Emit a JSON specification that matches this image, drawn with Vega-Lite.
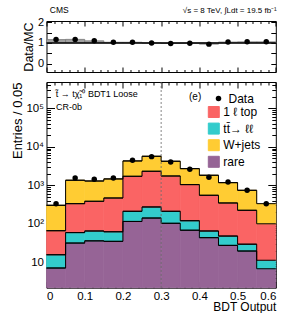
{
  "$schema": "https://vega.github.io/schema/vega-lite/v6.json",
  "padding": {"left": 10.5, "top": 5, "right": 0, "bottom": 0},
  "background": "white",
  "config": {
    "font": "Liberation Sans",
    "view": {"stroke": null},
    "axis": {"labelFont": "Liberation Sans", "titleFont": "Liberation Sans", "labelColor": "black", "titleColor": "black", "tickColor": "black", "domainColor": "black", "grid": false, "zindex": 1, "titleFontWeight": "normal", "domain": false},
    "legend": {"labelFont": "Liberation Sans", "labelColor": "black"},
    "text": {"font": "Liberation Sans", "color": "black"}
  },
  "resolve": {"scale": {"color": "independent", "stroke": "independent", "shape": "independent"}, "legend": {"color": "independent", "stroke": "independent", "shape": "independent"}},
  "datasets": {
    "h": [
      {"x0": 0.00, "x1": 0.05, "p": "rare", "lo": 1, "hi": 7.1},
      {"x0": 0.00, "x1": 0.05, "p": "tt̄→ ℓℓ", "lo": 7.1, "hi": 15.7},
      {"x0": 0.00, "x1": 0.05, "p": "1 ℓ top", "lo": 15.7, "hi": 66},
      {"x0": 0.00, "x1": 0.05, "p": "W+jets", "lo": 66, "hi": 302},
      {"x0": 0.05, "x1": 0.10, "p": "rare", "lo": 1, "hi": 31.6},
      {"x0": 0.05, "x1": 0.10, "p": "tt̄→ ℓℓ", "lo": 31.6, "hi": 59},
      {"x0": 0.05, "x1": 0.10, "p": "1 ℓ top", "lo": 59, "hi": 333},
      {"x0": 0.05, "x1": 0.10, "p": "W+jets", "lo": 333, "hi": 1350},
      {"x0": 0.10, "x1": 0.15, "p": "rare", "lo": 1, "hi": 36},
      {"x0": 0.10, "x1": 0.15, "p": "tt̄→ ℓℓ", "lo": 36, "hi": 65},
      {"x0": 0.10, "x1": 0.15, "p": "1 ℓ top", "lo": 65, "hi": 384},
      {"x0": 0.10, "x1": 0.15, "p": "W+jets", "lo": 384, "hi": 1290},
      {"x0": 0.15, "x1": 0.20, "p": "rare", "lo": 1, "hi": 35},
      {"x0": 0.15, "x1": 0.20, "p": "tt̄→ ℓℓ", "lo": 35, "hi": 62},
      {"x0": 0.15, "x1": 0.20, "p": "1 ℓ top", "lo": 62, "hi": 467},
      {"x0": 0.15, "x1": 0.20, "p": "W+jets", "lo": 467, "hi": 1460},
      {"x0": 0.20, "x1": 0.25, "p": "rare", "lo": 1, "hi": 115},
      {"x0": 0.20, "x1": 0.25, "p": "tt̄→ ℓℓ", "lo": 115, "hi": 211},
      {"x0": 0.20, "x1": 0.25, "p": "1 ℓ top", "lo": 211, "hi": 1710},
      {"x0": 0.20, "x1": 0.25, "p": "W+jets", "lo": 1710, "hi": 4280},
      {"x0": 0.25, "x1": 0.30, "p": "rare", "lo": 1, "hi": 141},
      {"x0": 0.25, "x1": 0.30, "p": "tt̄→ ℓℓ", "lo": 141, "hi": 273},
      {"x0": 0.25, "x1": 0.30, "p": "1 ℓ top", "lo": 273, "hi": 2310},
      {"x0": 0.25, "x1": 0.30, "p": "W+jets", "lo": 2310, "hi": 5660},
      {"x0": 0.30, "x1": 0.35, "p": "rare", "lo": 1, "hi": 103},
      {"x0": 0.30, "x1": 0.35, "p": "tt̄→ ℓℓ", "lo": 103, "hi": 211},
      {"x0": 0.30, "x1": 0.35, "p": "1 ℓ top", "lo": 211, "hi": 1740},
      {"x0": 0.30, "x1": 0.35, "p": "W+jets", "lo": 1740, "hi": 4200},
      {"x0": 0.35, "x1": 0.40, "p": "rare", "lo": 1, "hi": 68},
      {"x0": 0.35, "x1": 0.40, "p": "tt̄→ ℓℓ", "lo": 68, "hi": 120},
      {"x0": 0.35, "x1": 0.40, "p": "1 ℓ top", "lo": 120, "hi": 1040},
      {"x0": 0.35, "x1": 0.40, "p": "W+jets", "lo": 1040, "hi": 2700},
      {"x0": 0.40, "x1": 0.45, "p": "rare", "lo": 1, "hi": 43.6},
      {"x0": 0.40, "x1": 0.45, "p": "tt̄→ ℓℓ", "lo": 43.6, "hi": 65},
      {"x0": 0.40, "x1": 0.45, "p": "1 ℓ top", "lo": 65, "hi": 550},
      {"x0": 0.40, "x1": 0.45, "p": "W+jets", "lo": 550, "hi": 1820},
      {"x0": 0.45, "x1": 0.50, "p": "rare", "lo": 1, "hi": 27.5},
      {"x0": 0.45, "x1": 0.50, "p": "tt̄→ ℓℓ", "lo": 27.5, "hi": 48},
      {"x0": 0.45, "x1": 0.50, "p": "1 ℓ top", "lo": 48, "hi": 347},
      {"x0": 0.45, "x1": 0.50, "p": "W+jets", "lo": 347, "hi": 1170},
      {"x0": 0.50, "x1": 0.55, "p": "rare", "lo": 1, "hi": 19.6},
      {"x0": 0.50, "x1": 0.55, "p": "tt̄→ ℓℓ", "lo": 19.6, "hi": 29.5},
      {"x0": 0.50, "x1": 0.55, "p": "1 ℓ top", "lo": 29.5, "hi": 224},
      {"x0": 0.50, "x1": 0.55, "p": "W+jets", "lo": 224, "hi": 740},
      {"x0": 0.55, "x1": 0.60, "p": "rare", "lo": 1, "hi": 6.8},
      {"x0": 0.55, "x1": 0.60, "p": "tt̄→ ℓℓ", "lo": 6.8, "hi": 11.3},
      {"x0": 0.55, "x1": 0.60, "p": "1 ℓ top", "lo": 11.3, "hi": 100},
      {"x0": 0.55, "x1": 0.60, "p": "W+jets", "lo": 100, "hi": 333}
    ],
    "d": [
      {"x": 0.025, "x0": 0.00, "x1": 0.05, "n": 333, "r": 1.16},
      {"x": 0.075, "x0": 0.05, "x1": 0.10, "n": 1550, "r": 1.17},
      {"x": 0.125, "x0": 0.10, "x1": 0.15, "n": 1430, "r": 1.10},
      {"x": 0.175, "x0": 0.15, "x1": 0.20, "n": 1550, "r": 1.03},
      {"x": 0.225, "x0": 0.20, "x1": 0.25, "n": 4460, "r": 1.03},
      {"x": 0.275, "x0": 0.25, "x1": 0.30, "n": 5540, "r": 0.99},
      {"x": 0.325, "x0": 0.30, "x1": 0.35, "n": 4030, "r": 0.97},
      {"x": 0.375, "x0": 0.35, "x1": 0.40, "n": 2600, "r": 0.98},
      {"x": 0.425, "x0": 0.40, "x1": 0.45, "n": 1610, "r": 0.94},
      {"x": 0.475, "x0": 0.45, "x1": 0.50, "n": 1220, "r": 1.04},
      {"x": 0.525, "x0": 0.50, "x1": 0.55, "n": 740, "r": 1.05},
      {"x": 0.575, "x0": 0.55, "x1": 0.60, "n": 333, "r": 1.05}
    ],
    "one": [{}]
  },
  "vconcat": [
    {
      "width": 229.3,
      "height": 51,
      "resolve": {"axis": {"x": "independent", "y": "independent"}},
      "layer": [
        {
          "data": {"name": "d"},
          "mark": {"type": "rect", "fill": "#a0a0a0", "stroke": "#777777", "strokeWidth": 0.8},
          "encoding": {
            "x": {"field": "x0", "type": "quantitative", "scale": {"domain": [0, 0.6], "nice": false, "zero": false},
                  "axis": {"orient": "top", "values": [0, 0.1, 0.2, 0.3, 0.4, 0.5, 0.6], "labels": false, "tickSize": -5, "domain": true, "title": null}},
            "x2": {"field": "x1"},
            "y": {"field": "r", "type": "quantitative", "scale": {"domain": [-0.41, 2.06], "nice": false, "zero": false},
                  "axis": {"orient": "right", "values": [0, 0.5, 1, 1.5, 2], "labels": false, "tickSize": -5, "domain": true, "title": null}},
            "y2": {"datum": 1}
          }
        },
        {
          "data": {"name": "one"},
          "mark": {"type": "rule", "color": "black", "strokeWidth": 1.5},
          "encoding": {"y": {"datum": 1, "type": "quantitative", "axis": null}}
        },
        {
          "data": {"name": "d"},
          "mark": {"type": "point", "filled": true, "color": "black", "size": 30, "opacity": 1},
          "encoding": {
            "x": {"field": "x", "type": "quantitative",
                  "axis": {"orient": "bottom", "values": [0, 0.1, 0.2, 0.3, 0.4, 0.5, 0.6], "labels": false, "tickSize": -5, "domain": true, "title": null}},
            "y": {"field": "r", "type": "quantitative",
                  "axis": {"orient": "left", "values": [0, 0.5, 1, 1.5, 2], "tickSize": -5, "domain": true, "labelFontSize": 11, "labelPadding": 8,
                           "labelExpr": "datum.value == 0 ? '0' : datum.value == 1 ? '1' : datum.value == 2 ? '2' : format(datum.value, '.1f')",
                           "title": "Data/MC", "titleFontSize": 12.5, "titlePadding": 1.5}}
          }
        },
        {
          "data": {"name": "one"},
          "mark": {"type": "text", "align": "left", "baseline": "alphabetic", "fontSize": 8.5},
          "encoding": {
            "x": {"datum": 0.0086, "type": "quantitative",
                  "axis": {"orient": "top", "values": [0.02, 0.04, 0.06, 0.08, 0.12, 0.14, 0.16, 0.18, 0.22, 0.24, 0.26, 0.28, 0.32, 0.34, 0.36, 0.38, 0.42, 0.44, 0.46, 0.48, 0.52, 0.54, 0.56, 0.58], "labels": false, "tickSize": -2.5, "title": null}},
            "y": {"datum": 2.45, "type": "quantitative", "axis": null},
            "text": {"value": "CMS"}
          }
        },
        {
          "data": {"name": "one"},
          "mark": {"type": "text", "align": "right", "baseline": "alphabetic", "fontSize": 8},
          "encoding": {
            "x": {"datum": 0.6026, "type": "quantitative",
                  "axis": {"orient": "bottom", "values": [0.02, 0.04, 0.06, 0.08, 0.12, 0.14, 0.16, 0.18, 0.22, 0.24, 0.26, 0.28, 0.32, 0.34, 0.36, 0.38, 0.42, 0.44, 0.46, 0.48, 0.52, 0.54, 0.56, 0.58], "labels": false, "tickSize": -2.5, "title": null}},
            "y": {"datum": 2.45, "type": "quantitative", "axis": null},
            "text": {"value": "√s = 8 TeV, ∫Ldt = 19.5 fb⁻¹"}
          }
        }
      ]
    },
    {
      "width": 229.3,
      "height": 205.7,
      "resolve": {"axis": {"x": "independent", "y": "independent"}},
      "layer": [
        {
          "data": {"name": "h"},
          "mark": {"type": "rect", "strokeWidth": 0.7},
          "encoding": {
            "x": {"field": "x0", "type": "quantitative", "scale": {"domain": [0, 0.6], "nice": false, "zero": false},
                  "axis": {"orient": "bottom", "values": [0, 0.1, 0.2, 0.3, 0.4, 0.5, 0.6], "tickSize": -6, "domain": true, "labelFontSize": 11.5, "labelPadding": 8.5,
                           "labelExpr": "datum.value == 0 ? '0' : format(datum.value, '.1f')",
                           "title": "BDT Output", "titleFontSize": 12, "titleAnchor": "end", "titlePadding": 0}},
            "x2": {"field": "x1"},
            "y": {"field": "hi", "type": "quantitative", "scale": {"type": "log", "domain": [2.19, 480000], "nice": false, "clamp": true},
                  "axis": {"orient": "left", "values": [10, 100, 1000, 10000, 100000], "tickSize": -8, "domain": true, "labelFontSize": 11.5, "labelPadding": 11,
                           "labelExpr": "datum.value == 10 ? '10' : datum.value == 100 ? '10²' : datum.value == 1000 ? '10³' : datum.value == 10000 ? '10⁴' : '10⁵'",
                           "title": "Entries / 0.05", "titleFontSize": 13, "titleAnchor": "end", "titlePadding": 1.5}},
            "y2": {"field": "lo"},
            "color": {"field": "p", "type": "nominal",
                      "scale": {"domain": ["1 ℓ top", "tt̄→ ℓℓ", "W+jets", "rare"], "range": ["#fa6464", "#33cccc", "#ffcc33", "#966496"]},
                      "legend": {"orient": "none", "legendX": 161.3, "legendY": 24, "title": null, "symbolType": "square", "symbolSize": 121,
                                 "symbolStrokeColor": "black", "symbolStrokeWidth": 1, "labelFontSize": 12, "rowPadding": 0.6, "labelOffset": 3.5}},
            "stroke": {"field": "p", "type": "nominal",
                       "scale": {"domain": ["1 ℓ top", "tt̄→ ℓℓ", "W+jets", "rare"], "range": ["#fa6464", "#33cccc", "#ffcc33", "#966496"]},
                       "legend": null}
          }
        },
        {
          "data": {"name": "h"},
          "mark": {"type": "line", "interpolate": "step-after", "color": "black", "strokeWidth": 1},
          "encoding": {
            "x": {"field": "x0", "type": "quantitative",
                  "axis": {"orient": "bottom", "values": [0.02, 0.04, 0.06, 0.08, 0.12, 0.14, 0.16, 0.18, 0.22, 0.24, 0.26, 0.28, 0.32, 0.34, 0.36, 0.38, 0.42, 0.44, 0.46, 0.48, 0.52, 0.54, 0.56, 0.58], "labels": false, "tickSize": -3, "title": null}},
            "y": {"field": "hi", "type": "quantitative",
                  "axis": {"orient": "left", "values": [3, 4, 5, 6, 7, 8, 9, 20, 30, 40, 50, 60, 70, 80, 90, 200, 300, 400, 500, 600, 700, 800, 900, 2000, 3000, 4000, 5000, 6000, 7000, 8000, 9000, 20000, 30000, 40000, 50000, 60000, 70000, 80000, 90000, 200000, 300000, 400000], "labels": false, "tickSize": -4, "title": null}},
            "detail": {"field": "p"}
          }
        },
        {
          "data": {"name": "h"},
          "mark": {"type": "rule", "color": "black", "strokeWidth": 1},
          "encoding": {
            "x": {"field": "x0", "type": "quantitative",
                  "axis": {"orient": "top", "values": [0, 0.1, 0.2, 0.3, 0.4, 0.5, 0.6], "labels": false, "tickSize": -6, "domain": true, "title": null}},
            "x2": {"field": "x1"},
            "y": {"field": "hi", "type": "quantitative",
                  "axis": {"orient": "right", "values": [10, 100, 1000, 10000, 100000], "labels": false, "tickSize": -8, "domain": true, "title": null}}
          }
        },
        {
          "data": {"name": "one"},
          "mark": {"type": "rule", "color": "#666666", "strokeWidth": 0.8, "strokeDash": [2, 2]},
          "encoding": {"x": {"datum": 0.3, "type": "quantitative", "axis": null}}
        },
        {
          "data": {"name": "d"},
          "mark": {"type": "point", "filled": true, "color": "black", "size": 30, "opacity": 1},
          "encoding": {
            "x": {"field": "x", "type": "quantitative",
                  "axis": {"orient": "top", "values": [0.02, 0.04, 0.06, 0.08, 0.12, 0.14, 0.16, 0.18, 0.22, 0.24, 0.26, 0.28, 0.32, 0.34, 0.36, 0.38, 0.42, 0.44, 0.46, 0.48, 0.52, 0.54, 0.56, 0.58], "labels": false, "tickSize": -3, "title": null}},
            "y": {"field": "n", "type": "quantitative",
                  "axis": {"orient": "right", "values": [3, 4, 5, 6, 7, 8, 9, 20, 30, 40, 50, 60, 70, 80, 90, 200, 300, 400, 500, 600, 700, 800, 900, 2000, 3000, 4000, 5000, 6000, 7000, 8000, 9000, 20000, 30000, 40000, 50000, 60000, 70000, 80000, 90000, 200000, 300000, 400000], "labels": false, "tickSize": -4, "title": null}},
            "shape": {"datum": "Data", "type": "nominal", "scale": {"range": ["circle"]},
                      "legend": {"orient": "none", "legendX": 166, "legendY": 10.5, "title": null, "symbolSize": 30, "symbolFillColor": "black", "symbolStrokeColor": "black", "labelFontSize": 12}}
          }
        },
        {
          "data": {"name": "one"},
          "mark": {"type": "text", "align": "left", "baseline": "alphabetic", "fontSize": 9},
          "encoding": {
            "x": {"datum": 0.024, "type": "quantitative", "axis": null},
            "y": {"datum": 196000, "type": "quantitative", "axis": null},
            "text": {"value": "t̃ → tχ̃₁⁰  BDT1 Loose"}
          }
        },
        {
          "data": {"name": "one"},
          "mark": {"type": "text", "align": "left", "baseline": "alphabetic", "fontSize": 9},
          "encoding": {
            "x": {"datum": 0.025, "type": "quantitative", "axis": null},
            "y": {"datum": 88700, "type": "quantitative", "axis": null},
            "text": {"value": "CR-0b"}
          }
        },
        {
          "data": {"name": "one"},
          "mark": {"type": "text", "align": "left", "baseline": "alphabetic", "fontSize": 10},
          "encoding": {
            "x": {"datum": 0.373, "type": "quantitative", "axis": null},
            "y": {"datum": 167000, "type": "quantitative", "axis": null},
            "text": {"value": "(e)"}
          }
        }
      ]
    }
  ],
  "spacing": 8
}
